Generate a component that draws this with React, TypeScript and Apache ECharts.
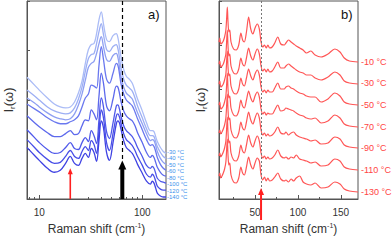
import React, { useEffect, useRef } from 'react';
import * as echarts from 'echarts';

const FONT = '"Liberation Sans", Arial, Helvetica, sans-serif';

// ---------- Panel a) : log-scale Raman shift, blue curves ----------
const shiftA = [7.6, 9, 10, 12, 14, 16, 18, 20, 22, 24, 26, 28, 30, 32, 34, 36, 38, 40, 42, 45, 48, 52, 56, 58, 60, 62, 66, 70, 75, 80, 85, 90, 100, 110, 120, 125, 130, 135, 140, 150, 160, 170];
const tempsA = ['-30 °C', '-40 °C', '-50 °C', '-60 °C', '-80 °C', '-100 °C', '-120 °C', '-140 °C'];
const aM30 = [123, 115, 110, 102, 96, 93, 92, 93, 98, 107, 119, 137, 151, 156, 157, 167, 181, 189, 177, 161, 159, 165, 167, 163, 154, 144, 131, 124, 121, 117, 109, 101, 89, 77, 69, 69, 68, 63, 58, 52, 48, 46];
const aM40 = [110, 104, 100, 93, 89, 87, 86, 87, 92, 101, 113, 129, 142, 146, 147, 157, 169, 177, 166, 151, 149, 154, 156, 152, 143, 133, 121, 115, 112, 109, 102, 94, 82, 71, 64, 64, 63, 58, 53, 47, 43, 41];
const aM50 = [102, 97, 93, 87, 83, 81, 80, 81, 86, 95, 106, 120, 133, 137, 139, 147, 157, 164, 154, 141, 139, 145, 147, 143, 134, 124, 113, 107, 104, 101, 94, 87, 76, 66, 59, 60, 59, 54, 48, 41, 37, 35];
const aM60 = [96, 91, 88, 82, 78, 76, 76, 78, 80, 84, 93, 102, 106, 115, 114, 112, 135, 154, 141, 121, 117, 127, 137, 135, 127, 117, 106, 100, 97, 94, 88, 81, 70, 60, 54, 55, 53, 48, 42, 35, 31, 29];
const aM80 = [84, 77, 73, 67, 63, 63, 66, 69, 65, 66, 74, 80, 79, 90, 86, 80, 104, 127, 117, 94, 89, 101, 114, 113, 107, 99, 89, 84, 81, 79, 74, 67, 57, 47, 42, 44, 42, 37, 32, 27, 24, 23];
const aM100 = [70, 62, 57, 50, 46, 47, 52, 57, 51, 50, 57, 62, 58, 69, 64, 56, 80, 102, 93, 68, 61, 77, 94, 95, 91, 84, 74, 69, 66, 63, 58, 52, 43, 34, 31, 33, 31, 26, 21, 18, 17, 16];
const aM120 = [60, 52, 47, 40, 36, 37, 43, 49, 43, 41, 48, 53, 49, 59, 55, 46, 68, 90, 82, 57, 49, 66, 84, 86, 83, 77, 66, 60, 57, 54, 49, 43, 34, 25, 22, 25, 23, 18, 13, 10, 9, 9];
const aM140 = [52, 44, 39, 31, 27, 29, 36, 43, 36, 34, 41, 46, 42, 51, 47, 38, 59, 79, 72, 47, 39, 57, 76, 79, 77, 71, 59, 52, 49, 46, 41, 35, 26, 18, 15, 18, 16, 11, 6, 3, 2, 2];
const curvesA = [aM30, aM40, aM50, aM60, aM80, aM100, aM120, aM140];
const colorsA = ['#abbcf6', '#9daff4', '#8e9ff2', '#6a78ef', '#5d69ec', '#5059ea', '#484ee7', '#3f42e3'];
const ticksA = [10, 100];
const minorTicksA = [8, 9, 20, 30, 40, 50, 60, 70, 80, 90];
const labelYA = [152, 158.4, 164.9, 171.3, 177.7, 184.1, 190.6, 197];

// ---------- Panel b) : linear Raman shift, red curves ----------
const shiftB = [8, 9, 10, 11.5, 13, 14.5, 16, 17, 17.7, 18.5, 19.5, 20.5, 22, 25, 28, 31, 33.5, 35.5, 37.5, 40, 42.5, 45, 47.5, 50, 52.5, 55, 57, 59, 61, 63, 65, 67, 70, 73, 76.5, 80, 84, 86, 89, 92, 95, 98, 102, 106, 110, 115, 120, 127, 135, 143, 149, 154, 160, 170];
const tempsB = ['-10 °C', '-30 °C', '-50 °C', '-70 °C', '-90 °C', '-110 °C', '-130 °C'];
const bM10 = [157, 161, 155, 156, 158, 162, 169, 182, 192, 177, 167, 169, 157, 150, 149, 154, 166, 159, 157, 167, 182, 170, 165, 171, 175, 170, 157, 152, 154, 151, 154, 151, 152, 156, 162, 155, 154, 156, 159, 157, 155, 153, 151, 149, 146, 148, 144, 142, 145, 150, 147, 141, 138, 137];
const bM30 = [135, 138, 132, 133, 135, 139, 145, 159, 169, 153, 143, 145, 133, 126, 125, 130, 141, 135, 133, 141, 151, 143, 139, 145, 150, 145, 133, 128, 130, 127, 130, 127, 128, 132, 137, 131, 131, 133, 135, 133, 131, 129, 127, 126, 124, 124, 121, 119, 122, 127, 124, 118, 116, 115];
const bM50 = [115, 118, 112, 113, 115, 119, 125, 139, 148, 132, 123, 125, 113, 106, 105, 110, 121, 115, 113, 121, 130, 123, 119, 125, 129, 124, 112, 107, 109, 106, 109, 107, 107, 111, 116, 110, 110, 112, 113, 111, 110, 108, 106, 105, 103, 102, 102, 97, 100, 106, 103, 97, 95, 94];
const bM70 = [94, 97, 90, 91, 93, 97, 103, 116, 126, 110, 101, 103, 91, 84, 83, 88, 99, 93, 91, 99, 108, 101, 97, 103, 107, 102, 90, 85, 87, 84, 86, 85, 85, 89, 94, 88, 89, 91, 90, 89, 88, 86, 84, 83, 81, 80, 81, 76, 78, 84, 81, 75, 73, 72];
const bM90 = [66, 69, 65, 67, 70, 74, 81, 95, 105, 89, 79, 81, 69, 62, 61, 66, 77, 71, 69, 77, 87, 79, 75, 81, 86, 81, 69, 64, 66, 63, 65, 63, 64, 67, 72, 66, 65, 67, 64, 66, 67, 64, 62, 61, 60, 58, 59, 55, 56, 62, 60, 54, 52, 51];
const bM110 = [43, 46, 42, 44, 47, 51, 58, 72, 82, 66, 56, 58, 46, 39, 38, 43, 54, 48, 46, 54, 64, 56, 52, 58, 63, 58, 46, 41, 43, 40, 42, 40, 41, 44, 49, 43, 41, 42, 40, 42, 41, 44, 40, 39, 38, 36, 37, 33, 34, 40, 38, 32, 30, 29];
const bM130 = [23, 26, 21, 23, 26, 30, 37, 51, 60, 44, 34, 36, 24, 17, 16, 21, 32, 26, 24, 32, 42, 34, 30, 36, 41, 38, 24, 19, 22, 18, 21, 18, 19, 22, 26, 20, 18, 19, 17, 20, 18, 21, 23, 17, 15, 14, 16, 11, 12, 17, 15, 10, 8, 7];
const curvesB = [bM10, bM30, bM50, bM70, bM90, bM110, bM130];
const ticksB = [50, 100, 150];
const minorTicksB = [25, 75, 125];
const labelYB = [62, 83, 105, 127, 148, 170, 192];

// marker positions (cm-1)
const redMarkA = 20;
const blackMarkA = 64;
const markB = 57;

const AXIS = '#555';

function xMain(gridIndex: number, type: string, min: number, max: number, ticks: number[]) {
  return {
    type, gridIndex, min, max, position: 'bottom',
    ...(type === 'log' ? { logBase: 10 } : {}),
    axisLine: { show: true, onZero: false, lineStyle: { color: AXIS } },
    axisTick: { show: true, inside: true, length: 4, customValues: ticks, lineStyle: { color: AXIS } },
    axisLabel: { customValues: ticks, fontSize: 10, color: '#333', margin: 8, fontFamily: FONT },
    splitLine: { show: false },
    name: '{t|Raman shift (cm}{s|-1}{t|)}',
    nameLocation: 'middle',
    nameGap: 23,
    nameTextStyle: {
      rich: {
        t: { fontSize: 12, color: '#333', fontFamily: FONT, lineHeight: 14 },
        s: { fontSize: 7, color: '#333', fontFamily: FONT, verticalAlign: 'top', lineHeight: 14 },
      },
    },
  };
}
function xMinor(gridIndex: number, type: string, min: number, max: number, ticks: number[]) {
  return {
    type, gridIndex, min, max, position: 'bottom', offset: 0,
    ...(type === 'log' ? { logBase: 10 } : {}),
    axisLine: { show: false, onZero: false },
    axisTick: { show: true, inside: true, length: 2, customValues: ticks, lineStyle: { color: AXIS } },
    axisLabel: { show: false },
    splitLine: { show: false },
  };
}
function yAx(gridIndex: number, max: number, interval: number) {
  return {
    type: 'value', gridIndex, min: 0, max, interval,
    axisLine: { show: true, onZero: false, lineStyle: { color: AXIS } },
    axisTick: { show: true, inside: true, length: 3, lineStyle: { color: AXIS } },
    axisLabel: { show: false },
    splitLine: { show: false },
  };
}

export default function App() {
  const ref = useRef<HTMLDivElement>(null);
  useEffect(() => {
    if (!ref.current) return;
    const chart = echarts.init(ref.current, undefined, { renderer: 'svg' });

    const seriesA = curvesA.map((arr, i) => ({
      type: 'line', xAxisIndex: 0, yAxisIndex: 0, silent: true,
      data: shiftA.map((x, j) => [x, arr[j]]),
      showSymbol: false, smooth: 0.35, z: 2 + i,
      lineStyle: { color: colorsA[i], width: 1.3 },
      ...(i === 0 ? {
        markLine: {
          silent: true, symbol: 'none', label: { show: false }, z: 20,
          lineStyle: { color: '#000', type: [4, 3], width: 1.2 },
          data: [[{ coord: [blackMarkA, 200] }, { coord: [blackMarkA, 40] }]],
        },
      } : {}),
    }));
    const seriesB = curvesB.map((arr, i) => ({
      type: 'line', xAxisIndex: 2, yAxisIndex: 1, silent: true,
      data: shiftB.map((x, j) => [x, arr[j]]),
      showSymbol: false, smooth: 0.3, z: 2 + i,
      lineStyle: { color: '#ff5656', width: 1.2 },
      ...(i === 0 ? {
        markLine: {
          silent: true, symbol: 'none', label: { show: false }, z: 20,
          lineStyle: { color: '#777', type: [2, 2], width: 1 },
          data: [[{ coord: [markB, 198] }, { coord: [markB, 0] }]],
        },
      } : {}),
    }));

    const yTitle = (x: number) => ({
      type: 'text', x, y: 100, rotation: Math.PI / 2,
      style: {
        text: '{i|I}{r|r}{i|(ω)}',
        align: 'center', verticalAlign: 'middle',
        rich: {
          i: { fontSize: 13, fill: '#333', fontFamily: FONT, lineHeight: 16 },
          r: { fontSize: 8, fill: '#333', fontFamily: FONT, verticalAlign: 'bottom', lineHeight: 16 },
        },
      },
    });

    const texts: any[] = [
      yTitle(8),
      yTitle(200),
      { type: 'text', x: 148, y: 14, style: { text: 'a)', fontSize: 13, fill: '#111', fontFamily: FONT, align: 'left', verticalAlign: 'middle' } },
      { type: 'text', x: 341, y: 14, style: { text: 'b)', fontSize: 13, fill: '#111', fontFamily: FONT, align: 'left', verticalAlign: 'middle' } },
      ...tempsA.map((t, i) => ({ type: 'text', x: 167, y: labelYA[i], style: { text: t, fontSize: 6, lineHeight: 6, fill: '#3a92ec', fontFamily: FONT, align: 'left', verticalAlign: 'middle' } })),
      ...tempsB.map((t, i) => ({ type: 'text', x: 361, y: labelYB[i], style: { text: t, fontSize: 9, fill: '#ff4444', fontFamily: FONT, align: 'left', verticalAlign: 'middle' } })),
    ];

    chart.setOption({
      animation: false,
      backgroundColor: '#fff',
      textStyle: { fontFamily: FONT },
      grid: [
        { left: 27, top: 1, width: 139, height: 198, show: true, borderColor: AXIS, borderWidth: 1 },
        { left: 219, top: 1, width: 139, height: 198, show: true, borderColor: AXIS, borderWidth: 1 },
      ],
      xAxis: [
        xMain(0, 'log', 7.6, 170, ticksA),
        xMinor(0, 'log', 7.6, 170, minorTicksA),
        xMain(1, 'value', 8, 170, ticksB),
        xMinor(1, 'value', 8, 170, minorTicksB),
      ],
      yAxis: [yAx(0, 200, 50), yAx(1, 198, 22)],
      series: [...seriesA, ...seriesB],
      graphic: texts,
    });

    // arrows positioned through the axes' own scales
    const arrow = (p0: number[], p1: number[], color: string, shaft: number, headW: number, headL: number) => {
      const [x, yTip] = p1;
      return [
        { type: 'line', z: 30, shape: { x1: p0[0], y1: p0[1], x2: x, y2: yTip + headL - 0.5 }, style: { stroke: color, lineWidth: shaft } },
        { type: 'polygon', z: 30, shape: { points: [[x, yTip], [x - headW / 2, yTip + headL], [x + headW / 2, yTip + headL]] }, style: { fill: color } },
      ];
    };
    const rA0 = chart.convertToPixel({ seriesIndex: 0 }, [redMarkA, 0]) as number[];
    const rA1 = chart.convertToPixel({ seriesIndex: 0 }, [redMarkA, 31]) as number[];
    const bA0 = chart.convertToPixel({ seriesIndex: 0 }, [blackMarkA, 0]) as number[];
    const bA1 = chart.convertToPixel({ seriesIndex: 0 }, [blackMarkA, 39]) as number[];
    const rB0 = chart.convertToPixel({ seriesIndex: curvesA.length }, [markB, -21]) as number[];
    const rB1 = chart.convertToPixel({ seriesIndex: curvesA.length }, [markB, 11]) as number[];
    chart.setOption({
      graphic: [
        ...texts,
        ...arrow(rA0, rA1, '#ff2020', 1.6, 5, 6),
        ...arrow(bA0, bA1, '#000', 4, 8, 9),
        ...arrow(rB0, rB1, '#ff2020', 2, 6, 7),
      ],
    });

    return () => chart.dispose();
  }, []);
  return <div ref={ref} style={{ position: 'fixed', left: 0, top: 0, width: 392, height: 240, background: '#fff' }} />;
}
